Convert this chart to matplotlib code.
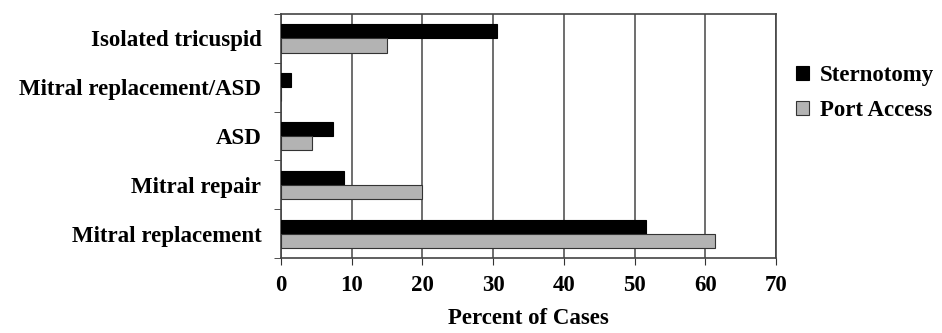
import matplotlib.pyplot as plt
import numpy as np

# Datos (de abajo hacia arriba)
categories = ['Mitral replacement', 'Mitral repair', 'ASD',
              'Mitral replacement/ASD', 'Isolated tricuspid']
sternotomy = [51.6, 8.9, 7.4, 1.4, 30.5]
port_access = [61.4, 20.0, 4.4, 0.0, 15.0]
xticks = [0, 10, 20, 30, 40, 50, 60, 70]

plt.rcParams['font.family'] = ['Liberation Serif', 'DejaVu Serif']
plt.rcParams['font.weight'] = 'bold'

fs = 16.5

fig = plt.figure(figsize=(9.42, 3.33), dpi=100)
ax = fig.add_axes([0.298, 0.225, 0.526, 0.733])

y = np.arange(len(categories))
h = 0.29
ax.barh(y + h / 2, sternotomy, height=h, color='black', edgecolor='black',
        linewidth=0.8, label='Sternotomy', zorder=3)
ax.barh(y - h / 2, port_access, height=h, color='#b3b3b3', edgecolor='#333333',
        linewidth=0.8, label='Port Access', zorder=3)

ax.set_xlim(0, 70)
ax.set_ylim(-0.5, len(categories) - 0.5)
ax.set_xticks(xticks)
ax.set_xticklabels([str(t) for t in xticks], fontsize=fs, fontweight='bold')
ax.set_yticks(y)
ax.set_yticklabels(categories, fontsize=fs, fontweight='bold')
ax.tick_params(axis='y', length=0, pad=14)
ax.set_yticks(np.arange(-0.5, len(categories)), minor=True)
ax.tick_params(axis='y', which='minor', length=5, color='#333333')
ax.tick_params(axis='x', length=5, color='#333333', pad=7)

ax.grid(True, axis='x', color='#555555', linewidth=1.2, zorder=0)
for s in ax.spines.values():
    s.set_color('#444444')
    s.set_linewidth(1.2)

ax.set_xlabel('Percent of Cases', fontsize=fs, fontweight='bold', labelpad=9)

ax.legend(loc='upper left', bbox_to_anchor=(1.04, 0.79), frameon=False,
          fontsize=fs, handlelength=0.55, handleheight=0.55, handletextpad=0.5,
          labelspacing=0.6, borderaxespad=0, borderpad=0)

plt.savefig('out.png', dpi=100)
